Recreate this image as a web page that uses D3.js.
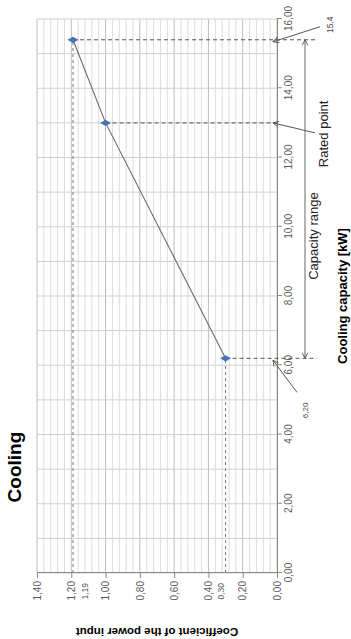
<!DOCTYPE html>
<html>
<head>
<meta charset="utf-8">
<script src="https://cdn.jsdelivr.net/npm/d3@7"></script>
<style>
  body { margin: 0; background: #fff; }
  svg { display: block; font-family: "Liberation Sans", Arial, sans-serif; }
</style>
</head>
<body>
<svg id="chart" width="351" height="639"></svg>
<script>
// chart values
const pointNames = ['min', 'rated', 'max'];
const capacity = [6.2, 13.0, 15.4];
const coefficient = [0.30, 1.00, 1.19];
const capacityTicks = [0, 2, 4, 6, 8, 10, 12, 14, 16];
const coefTicks = [0, 0.2, 0.4, 0.6, 0.8, 1.0, 1.2, 1.4];
const coefExtraLabels = ['1,19', '0,30'];
const capacityNotes = ['6,20', '15,4'];

const locale = d3.formatLocale({ decimal: ',', thousands: '.', grouping: [3], currency: ['', ''] });
const fmt = locale.format('.2f');

const W = 554; // capacity axis length
const H = 240; // coefficient axis length

const svg = d3.select('#chart');

const defs = svg.append('defs');
defs.append('marker')
  .attr('id', 'arr')
  .attr('viewBox', '0 0 10 10')
  .attr('refX', 9).attr('refY', 5)
  .attr('markerWidth', 7).attr('markerHeight', 7)
  .attr('markerUnits', 'userSpaceOnUse')
  .attr('orient', 'auto-start-reverse')
  .append('path')
  .attr('d', 'M1,1 L9,5 L1,9')
  .attr('fill', 'none')
  .attr('stroke', '#555')
  .attr('stroke-width', 1.3);

// the whole chart is turned a quarter turn to the left
const g = svg.append('g').attr('transform', 'translate(37,573) rotate(-90)');

const x = d3.scaleLinear().domain([0, 16]).range([0, W]);
const y = d3.scaleLinear().domain([0, 1.4]).range([H, 0]);

// grid
const coefGrid = d3.range(0, 36).map((i) => i * 0.04);
g.append('g').selectAll('line')
  .data(coefGrid)
  .enter().append('line')
  .attr('x1', 0).attr('x2', W)
  .attr('y1', (d) => y(d)).attr('y2', (d) => y(d))
  .attr('stroke', (d, i) => (i % 5 === 0 ? '#bdbdbd' : '#dcdcdc'))
  .attr('stroke-width', 1);

g.append('g').selectAll('line')
  .data(x.ticks(16))
  .enter().append('line')
  .attr('x1', (d) => x(d)).attr('x2', (d) => x(d))
  .attr('y1', 0).attr('y2', H)
  .attr('stroke', '#cfcfcf')
  .attr('stroke-width', 1);

// axes
const xAxis = d3.axisBottom(x).tickValues(capacityTicks).tickSize(5).tickFormat(fmt);
const yAxis = d3.axisLeft(y).tickValues(coefTicks).tickSize(5).tickFormat(fmt);

const gx = g.append('g').attr('transform', 'translate(0,' + H + ')').call(xAxis);
const gy = g.append('g').call(yAxis);

[gx, gy].forEach((ax) => {
  ax.select('.domain').attr('stroke', '#8a8a8a');
  ax.selectAll('.tick line').attr('stroke', '#8a8a8a');
  ax.selectAll('text')
    .attr('fill', '#595959')
    .style('font-size', '10px')
    .style('font-family', '"Liberation Sans", Arial, sans-serif');
});

// extra coefficient labels next to the axis
g.append('g').selectAll('text')
  .data(coefExtraLabels)
  .enter().append('text')
  .attr('x', -10)
  .attr('y', (d, i) => (i === 0 ? y(coefficient[2]) + 12 : y(coefficient[0]) - 5))
  .attr('dy', '0.35em')
  .attr('text-anchor', 'end')
  .attr('fill', '#595959')
  .style('font-size', '8.5px')
  .text((d) => d);

// dashed guides
const pts = capacity.map((c, i) => ({ name: pointNames[i], c: c, k: coefficient[i] }));

g.append('g').selectAll('line')
  .data(pts)
  .enter().append('line')
  .attr('x1', (d) => x(d.c)).attr('x2', (d) => x(d.c))
  .attr('y1', (d) => y(d.k))
  .attr('y2', (d) => (d.name === 'rated' ? H : H + 40))
  .attr('stroke', '#555')
  .attr('stroke-width', 1)
  .attr('stroke-dasharray', '4,3');

g.append('g').selectAll('line')
  .data(pts.filter((d) => d.name !== 'rated'))
  .enter().append('line')
  .attr('x1', 0).attr('x2', (d) => x(d.c))
  .attr('y1', (d) => y(d.k)).attr('y2', (d) => y(d.k))
  .attr('stroke', '#777')
  .attr('stroke-width', 1)
  .attr('stroke-dasharray', '3,3');

// data line and markers
const line = d3.line().x((d) => x(d.c)).y((d) => y(d.k));
g.append('path')
  .datum(pts)
  .attr('d', line)
  .attr('fill', 'none')
  .attr('stroke', '#6a6a6a')
  .attr('stroke-width', 1.1);

g.append('g').selectAll('path')
  .data(pts)
  .enter().append('path')
  .attr('transform', (d) => 'translate(' + x(d.c) + ',' + y(d.k) + ')')
  .attr('d', d3.symbol(d3.symbolDiamond, 34))
  .attr('fill', '#4473b8');

// annotations
const ann = g.append('g');
const arrow = (x1, y1, x2, y2) =>
  ann.append('line')
    .attr('x1', x1).attr('y1', y1).attr('x2', x2).attr('y2', y2)
    .attr('stroke', '#555').attr('stroke-width', 1)
    .attr('marker-end', 'url(#arr)');

arrow(x(15.4) + 13, H + 43, x(15.4) - 2, H - 4);
arrow(x(13.0) - 10, H + 38, x(13.0), H - 4);
arrow(x(6.2) - 34, H + 20, x(6.2) - 2, H - 4);

ann.append('line')
  .attr('x1', x(6.2)).attr('x2', x(15.4))
  .attr('y1', H + 28).attr('y2', H + 28)
  .attr('stroke', '#666').attr('stroke-width', 1)
  .attr('marker-start', 'url(#arr)')
  .attr('marker-end', 'url(#arr)');

ann.append('text')
  .attr('x', x(15.4) + 15).attr('y', H + 53).attr('dy', '0.35em')
  .attr('text-anchor', 'middle').attr('fill', '#444')
  .style('font-size', '8.5px')
  .text(capacityNotes[1]);

ann.append('text')
  .attr('x', x(6.2) - 52).attr('y', H + 28).attr('dy', '0.35em')
  .attr('text-anchor', 'middle').attr('fill', '#444')
  .style('font-size', '8px')
  .text(capacityNotes[0]);

ann.append('text')
  .attr('x', x(13.0) - 11).attr('y', H + 51)
  .attr('text-anchor', 'middle').attr('fill', '#222')
  .style('font-size', '13px')
  .text('Rated point');

ann.append('text')
  .attr('x', (x(6.2) + x(15.4)) / 2 - 37).attr('y', H + 41)
  .attr('text-anchor', 'middle').attr('fill', '#222')
  .style('font-size', '13px')
  .text('Capacity range');

// titles
g.append('text')
  .attr('x', x(3.06)).attr('y', -16)
  .attr('text-anchor', 'middle')
  .style('font-size', '19px').style('font-weight', 'bold')
  .text('Cooling');

g.append('text')
  .attr('x', W / 2).attr('y', H + 70)
  .attr('text-anchor', 'middle')
  .style('font-size', '13px').style('font-weight', 'bold')
  .text('Cooling capacity [kW]');

g.append('text')
  .attr('transform', 'translate(-55,' + H / 2 + ') rotate(-90)')
  .attr('text-anchor', 'middle')
  .style('font-size', '11.5px').style('font-weight', 'bold')
  .text('Coefficient of the power input');
</script>
</body>
</html>
